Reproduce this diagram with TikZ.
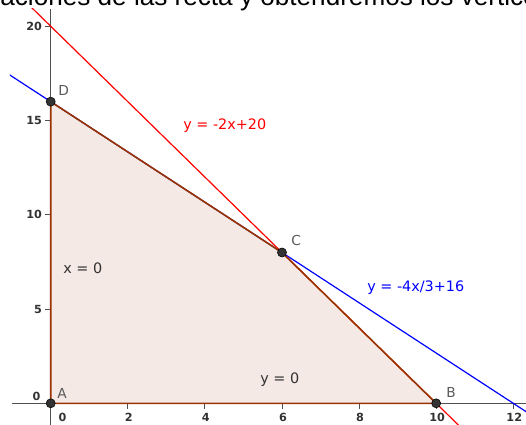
\documentclass[tikz,border=0pt]{standalone}
\usepackage{fontspec}
\setmainfont{DejaVu Sans}
\newfontfamily\topfont{Liberation Sans}
\newfontfamily\lblfont{DejaVu Sans}
\definecolor{axisc}{RGB}{80,80,80}
\definecolor{polyc}{RGB}{153,51,0}
\definecolor{fillc}{RGB}{245,233,229}
\definecolor{redc}{RGB}{255,0,0}
\definecolor{bluec}{RGB}{0,0,255}
\definecolor{ticktext}{RGB}{50,50,50}
\definecolor{ptlabel}{RGB}{90,90,90}
\tikzset{
  axisline/.style={draw=axisc, line width=0.9pt},
  redline/.style={draw=redc, line width=0.9pt},
  blueline/.style={draw=bluec, line width=0.9pt},
  polyline/.style={draw=polyc, line width=1.2pt},
  ptdot/.style={circle, fill=black!80, draw=black, line width=0.4pt, inner sep=0pt, minimum size=6.8pt},
  ticklab/.style={font=\lblfont\bfseries\fontsize{8.4}{9}\selectfont, text=ticktext, inner sep=0pt},
  ptlab/.style={font=\lblfont\fontsize{10.3}{12}\selectfont, text=ptlabel, inner sep=0pt, anchor=base west},
  eqlab/.style={font=\lblfont\fontsize{10.8}{12}\selectfont, inner sep=0pt, anchor=base west},
}
\begin{document}
\begin{tikzpicture}[x=0.75pt,y=-0.75pt]
\useasboundingbox (0,0) rectangle (526,425);
\clip (0,0) rectangle (526,425);
\node[anchor=base west, inner sep=0pt, font=\topfont\fontsize{19.6}{22}\selectfont] (toptext) at (-42,5.7) {ecuaciones de las recta y obtendremos los vértices};
\begin{scope}[shift={(38.03pt,-302.48pt)}, x=28.91pt, y=14.14pt]
  \coordinate (A) at (0,0);
  \coordinate (B) at (10,0);
  \coordinate (C) at (6,8);
  \coordinate (D) at (0,16);
  \coordinate (xl) at (-1.0,0);
  \coordinate (xr) at (12.4,0);
  \coordinate (yb) at (0,-1.2);
  \coordinate (yt) at (0,20.92);
  \coordinate (r1) at (-0.6,21.2);
  \coordinate (r2) at (10.7,-1.4);
  \coordinate (b1) at (-1.2,17.6);
  \coordinate (b2) at (12.6,-0.8);
  \fill[fillc] (A) -- (B) -- (C) -- (D) -- cycle;
  \draw[axisline] (xl) -- (xr);
  \draw[axisline] (yb) -- (yt);
  \foreach \i in {2,4,6,8,10,12} {
    \draw[axisline, line width=0.7pt] (\i,0) ++(0pt,-4pt) -- ++(0pt,4.5pt);
    \node[ticklab, anchor=base, xshift=0.75pt, yshift=-13.5pt] at (\i,0) {\i};
  }
  \foreach \j in {5,10,15,20} {
    \draw[axisline, line width=0.7pt] (0,\j) -- ++(-4.5pt,0pt);
    \node[ticklab, anchor=east, xshift=-6.3pt] at (0,\j) {\j};
  }
  \node[ticklab, anchor=base, xshift=8.85pt, yshift=-13.5pt] at (0,0) {0};
  \node[ticklab, anchor=east, xshift=-7.5pt, yshift=5.5pt] at (0,0) {0};
  \begin{scope}
    \clip (-1.06,-1.16) rectangle (12.35,20.92);
    \draw[redline] (r1) -- (r2);
    \draw[blueline] (b1) -- (b2);
  \end{scope}
  \draw[polyline] (A) -- (B) -- (C) -- (D) -- cycle;
  \node[ptdot] (pA) at (A) {};
  \node[ptdot] (pB) at (B) {};
  \node[ptdot] (pC) at (C) {};
  \node[ptdot] (pD) at (D) {};
\end{scope}
\node[ptlab] (lA) at (57,398) {A};
\node[ptlab] (lB) at (446,397) {B};
\node[ptlab] (lC) at (291,245) {C};
\node[ptlab] (lD) at (58,95) {D};
\node[eqlab, text=redc] (eqr) at (183,129) {y = -2x+20};
\node[eqlab, text=bluec] (eqb) at (367,291) {y = -4x/3+16};
\node[eqlab, text=ticktext] (eqx) at (63,273) {x = 0};
\node[eqlab, text=ticktext] (eqy) at (260,383) {y = 0};
\end{tikzpicture}
\end{document}
